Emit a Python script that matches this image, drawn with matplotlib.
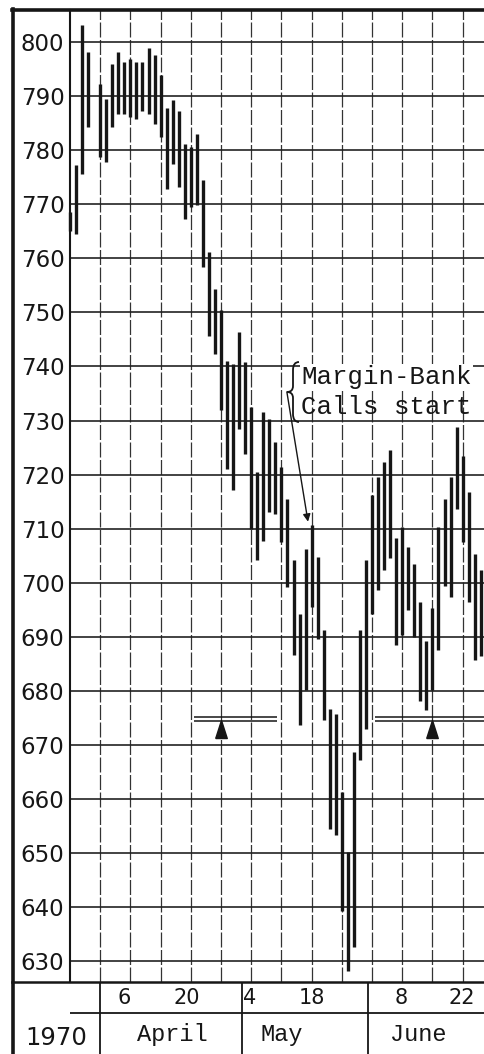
import matplotlib
matplotlib.use("Agg")
import matplotlib.pyplot as plt
from matplotlib.lines import Line2D
from matplotlib.path import Path
from matplotlib.patches import PathPatch

# trading-day index: 0 = Mon 23 Mar 1970, grid line every 5 days (day 4 = Good Friday, no bar)
days = [0, 1, 2, 3, 5, 6, 7, 8, 9, 10, 11, 12, 13, 14, 15, 16, 17, 18, 19, 20,
        21, 22, 23, 24, 25, 26, 27, 28, 29, 30, 31, 32, 33, 34, 35, 36, 37, 38, 39, 40,
        41, 42, 43, 44, 45, 46, 47, 48, 49, 50, 51, 52, 53, 54, 55, 56, 57, 58, 59, 60,
        61, 62, 63, 64, 65, 66, 67, 68]
highs = [768.5, 777.2, 803.1, 798.1, 792.3, 789.5, 796.0, 798.1, 796.3, 796.9,
         796.3, 796.3, 798.8, 797.5, 793.8, 787.7, 789.2, 787.3, 781.2, 780.6,
         783.0, 774.4, 761.1, 754.3, 750.5, 741.0, 740.5, 746.3, 740.8, 732.5,
         720.4, 731.5, 730.3, 726.0, 721.4, 715.5, 704.2, 694.3, 706.3, 710.6,
         704.8, 691.2, 676.7, 675.8, 661.3, 650.2, 668.7, 691.3, 704.2, 716.2,
         719.5, 722.3, 724.5, 708.2, 710.3, 706.6, 703.4, 696.4, 689.2, 695.3,
         710.3, 715.5, 719.5, 728.8, 723.5, 716.8, 705.4, 702.3]
lows = [765.1, 764.5, 775.6, 784.3, 778.7, 777.8, 784.3, 786.7, 786.7, 786.1,
        785.8, 787.3, 786.7, 784.9, 782.4, 772.8, 777.5, 773.1, 767.3, 769.4,
        769.9, 758.4, 745.6, 742.3, 732.0, 721.1, 717.1, 728.5, 723.8, 710.0,
        704.2, 707.7, 713.1, 712.7, 707.5, 699.2, 686.6, 673.8, 680.1, 695.5,
        689.7, 674.6, 654.5, 653.3, 639.4, 628.3, 632.6, 667.2, 673.0, 694.3,
        698.6, 702.3, 704.5, 688.5, 690.3, 695.0, 690.0, 678.1, 676.5, 680.2,
        687.6, 699.5, 697.3, 713.7, 707.5, 696.4, 685.8, 686.4]

y_levels = [630, 640, 650, 660, 670, 680, 690, 700, 710, 720, 730, 740, 750,
            760, 770, 780, 790, 800]
week_lines = [5, 10, 15, 20, 25, 30, 35, 40, 45, 50, 55, 60, 65]

date_pos = [9, 19.4, 29.8, 40, 54.8, 64.8]
date_labels = ["6", "20", "4", "18", "8", "22"]
months = ["April", "May", "June"]
month_pos = [16.9, 35.1, 57.6]
month_edges = [5, 28.4, 49.4]

# support lines (double) and their arrows
support_levels = [675.2, 674.5]
support_spans = [(20.5, 34.2), (50.5, 68.7)]
support_arrows = [25, 60]

W, H = 485, 1054
INK = "#161616"
mono = "Liberation Mono"


def fx(px):
    return px / W


def fy(py):
    return 1 - py / H


fig = plt.figure(figsize=(W / 100, H / 100), dpi=100)
fig.patch.set_facecolor("white")

ax = fig.add_axes([fx(70), fy(982), fx(485) - fx(70), fy(10) - fy(982)])
ax.set_xlim(0, 68.7)
ax.set_ylim(626.2, 805.9)

ax.set_yticks(y_levels)
ax.set_yticklabels([str(v) for v in y_levels])
ax.set_xticks(week_lines)
ax.grid(axis="y", color="#222222", lw=1.2)
ax.grid(axis="x", color="#333333", lw=0.9, ls=(0, (12, 2)))
ax.set_axisbelow(True)
ax.tick_params(axis="x", length=0, labelbottom=False)
ax.tick_params(axis="y", length=0, pad=4, labelsize=16.5, labelcolor=INK)
for side in ["top", "right", "bottom"]:
    ax.spines[side].set_visible(False)
ax.spines["left"].set_linewidth(1.5)
ax.spines["left"].set_color(INK)

# high-low bars
ax.vlines(days, lows, highs, colors=INK, lw=2.4, clip_on=False, zorder=3)

# double support lines with up arrows
for lo, hi in support_spans:
    ax.hlines(support_levels, lo, hi, colors=INK, lw=1.1, zorder=3)
tri = [(-0.32, -0.5), (0.32, -0.5), (0, 0.5), (-0.32, -0.5)]
ax.plot(support_arrows, [673.0] * len(support_arrows), ls="none", marker=tri,
        ms=13, color=INK, zorder=4)

# annotation
ax.text(38.3, 736.7, "Margin-Bank", family=mono, fontsize=18.5, color=INK,
        va="baseline", ha="left", zorder=5,
        bbox=dict(facecolor="white", edgecolor="none", pad=1.0))
ax.text(38.3, 731.3, "Calls start", family=mono, fontsize=18.5, color=INK,
        va="baseline", ha="left", zorder=5)
ax.annotate("", xy=(39.4, 711.3), xytext=(35.9, 735.3),
            arrowprops=dict(arrowstyle="-|>", color=INK, lw=1.0,
                            mutation_scale=11, shrinkA=0, shrinkB=0),
            zorder=5)

# curly brace in front of the note
brace_px = [(299, 362), (293, 362), (293, 370), (293, 386), (293, 392),
            (287, 392), (293, 392), (293, 398), (293, 414), (293, 422),
            (299, 422)]
brace_codes = [Path.MOVETO, Path.CURVE3, Path.CURVE3, Path.LINETO, Path.CURVE3,
               Path.CURVE3, Path.CURVE3, Path.CURVE3, Path.LINETO, Path.CURVE3,
               Path.CURVE3]
brace = Path([(fx(x), fy(y)) for x, y in brace_px], brace_codes)
fig.add_artist(PathPatch(brace, transform=fig.transFigure, fill=False,
                         lw=1.3, edgecolor=INK, zorder=6))

# frame
fig.add_artist(Line2D([fx(13), fx(13)], [fy(9), fy(1054)], lw=2.6, color=INK))
fig.add_artist(Line2D([fx(12), 1], [fy(10), fy(10)], lw=2.6, color=INK))
fig.add_artist(Line2D([fx(12), 1], [fy(982), fy(982)], lw=1.8, color=INK))

# date / month table under the chart
tab = fig.add_axes([fx(12), 0, 1 - fx(12), fy(982)])
tab.set_xlim(-9.6, 68.7)
tab.set_ylim(0, 1)
tab.axis("off")
tab.hlines(0.569, 0, 68.7, colors=INK, lw=1.3)
tab.vlines(month_edges, 0, 1, colors=INK, lw=1.3)
for pos, lab in zip(date_pos, date_labels):
    tab.text(pos, 0.775, lab, fontsize=15, color=INK, ha="center", va="center")
for pos, lab in zip(month_pos, months):
    tab.text(pos, 0.27, lab, family=mono, fontsize=17, color=INK,
             ha="center", va="center")
tab.text(-2.3, 0.225, "1970", fontsize=17.5, color=INK, ha="center", va="center")

fig.savefig("out.png", dpi=100, facecolor="white")
